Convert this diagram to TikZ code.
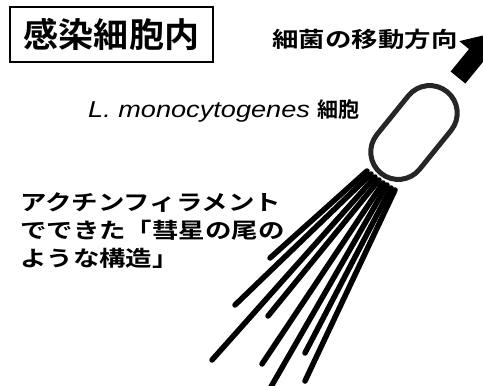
\documentclass[tikz,border=0pt]{standalone}
\usepackage{fontspec}
\usetikzlibrary{arrows.meta}
% Japanese gothic faces (body text widened), Latin italic for the species name
\newfontfamily\jpbody{Noto Sans CJK JP Bold}[FakeStretch=1.23]
\newfontfamily\jpplain{Noto Sans CJK JP Bold}
\newfontfamily\jptitle{Noto Sans CJK JP Bold}[FakeStretch=1.03]
\newfontfamily\latinit{Liberation Sans Italic}[FakeStretch=1.18]

\begin{document}
\begin{tikzpicture}[x=1pt,y=-1pt,
  titlebox/.style={draw, line width=1.4pt, minimum width=203pt, minimum height=55pt,
    inner sep=0pt, font=\jptitle\fontsize{34}{34}\selectfont},
  textlabel/.style={inner sep=0pt, font=\jpbody\fontsize{21.5}{28}\selectfont},
  filament/.style={line width=5.5pt, line cap=round},
  cellwall/.style={draw=black!85, line width=5pt, rounded corners=27.5pt,
    minimum width=105pt, minimum height=55pt, inner sep=0pt},
  motion/.style={line width=19pt, -{Triangle[length=29pt,width=42pt]}}]

\useasboundingbox (0,0) rectangle (483,386);
\clip (0,0) rectangle (483,386);

% heading in a frame
\node[titlebox] (title) at (111.5,34.5) {感染細胞内};

% direction of movement
\node[textlabel] (dirlabel) at (365,39) {細菌の移動方向};
\coordinate (movebase) at (458,77.5);
\coordinate (movetip) at (494.7,32.6);
\draw[motion] (movebase) -- (movetip);

% the bacterium
\node[inner sep=0pt, anchor=west] (species) at (88,111)
  {{\latinit\fontsize{23}{23}\selectfont L. monocytogenes }{\jpplain\fontsize{21}{21}\selectfont 細胞}};
\node[cellwall, rotate=51] (cell) at (414,132.5) {};

% actin comet tail
\foreach \i/\xa/\ya/\xb/\yb in {
    1/270/258/367/171,
    2/235/305/371/174,
    3/212/360/375/177,
    4/268/316/379/180,
    5/262/364/383/183,
    6/268/392/387/185,
    7/305/353/391/188,
    8/305/381/395/190} {
  \coordinate (tailend\i) at (\xa,\ya);
  \coordinate (tailroot\i) at (\xb,\yb);
  \draw[filament] (tailend\i) -- (tailroot\i);
}

\node[textlabel, anchor=west, align=left] (tail) at (20,231)
  {アクチンフィラメント\\でできた「彗星の尾の\\ような構造」};
\end{tikzpicture}
\end{document}
